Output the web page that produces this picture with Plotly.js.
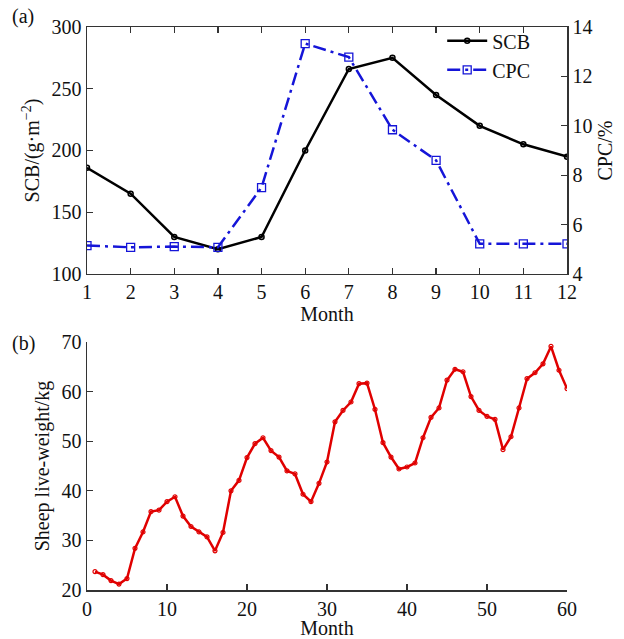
<!DOCTYPE html>
<html>
<head>
<meta charset="utf-8">
<script src="https://cdn.plot.ly/plotly-3.0.1.min.js"></script>
<style>html,body{margin:0;padding:0;background:#fff;}#chart{width:624px;height:639px;}</style>
</head>
<body>
<div id="chart"></div>
<script>
// Panel (a)
const months = [1,2,3,4,5,6,7,8,9,10,11,12];
const scb = [186,165,130,120,130,200,266,275,245,220,205,195];
const cpc = [5.15,5.08,5.11,5.08,7.5,13.33,12.78,9.84,8.6,5.22,5.22,5.22];
// Panel (b)
const monthsB = [1,2,3,4,5,6,7,8,9,10,11,12,13,14,15,16,17,18,19,20,21,22,23,24,25,26,27,28,29,30,31,32,33,34,35,36,37,38,39,40,41,42,43,44,45,46,47,48,49,50,51,52,53,54,55,56,57,58,59,60];
const weight = [23.7,23.1,21.9,21.2,22.3,28.4,31.7,35.8,36.1,37.8,38.8,34.9,32.8,31.7,30.7,27.9,31.6,40.0,42.1,46.7,49.5,50.7,48.1,46.8,44.0,43.4,39.3,37.8,41.5,45.8,53.9,56.2,57.9,61.6,61.7,56.4,49.7,46.8,44.4,44.8,45.6,50.7,54.8,56.7,62.3,64.5,64.0,59.0,56.2,55.0,54.4,48.3,50.9,56.7,62.6,63.8,65.6,69.1,64.3,60.6];

const F = "Liberation Serif, Times New Roman, serif";
const axCol = "#333";
const FS = 20;

const traces = [
  {x: months, y: scb, name: "SCB", type: "scatter", mode: "lines+markers",
   xaxis: "x", yaxis: "y",
   line: {color: "#000", width: 2.5},
   marker: {symbol: "circle-open", size: 5, color: "#000", line: {width: 1.5, color: "#000"}}},
  {x: months, y: cpc, name: "CPC", type: "scatter", mode: "lines+markers",
   xaxis: "x", yaxis: "y2",
   line: {color: "#1515d8", width: 2.5, dash: "13px,5px,3px,5px"},
   marker: {symbol: "square-open", size: 8, color: "#1515d8", line: {width: 1.3, color: "#1515d8"}}},
  {x: monthsB, y: weight, name: "weight", type: "scatter", mode: "lines+markers",
   xaxis: "x2", yaxis: "y3", showlegend: false,
   line: {color: "#e00000", width: 2.5},
   marker: {symbol: "circle-open", size: 4, color: "#e00000", line: {width: 1.2, color: "#e00000"}}}
];

const common = {
  showgrid: false, zeroline: false, showline: true, linecolor: axCol, linewidth: 1.5,
  ticks: "inside", ticklen: 6, tickwidth: 1.2, tickcolor: axCol,
  tickfont: {family: F, size: FS, color: "#111"}
};

const layout = {
  width: 624, height: 639,
  margin: {l: 87, r: 57, t: 27, b: 49},
  paper_bgcolor: "#fff", plot_bgcolor: "#fff",
  font: {family: F, size: FS, color: "#111"},
  showlegend: true,
  legend: {x: 0.74, y: 1.01, xanchor: "left", yanchor: "top", bgcolor: "rgba(0,0,0,0)",
           font: {family: F, size: FS, color: "#111"}, itemwidth: 40, tracegroupgap: 0},
  xaxis: Object.assign({}, common, {domain: [0,1], anchor: "y", range: [1,12], dtick: 1, tick0: 1,
          mirror: "ticks", title: {text: "Month", font: {family: F, size: FS}, standoff: 1}}),
  yaxis: Object.assign({}, common, {domain: [0.5613, 1], anchor: "x", range: [100,300], dtick: 50,
          title: {text: "SCB/(g·m<sup>−2</sup>)", font: {family: F, size: FS}, standoff: 6}}),
  yaxis2: Object.assign({}, common, {overlaying: "y", side: "right", anchor: "x", range: [4,14], dtick: 2,
          title: {text: "CPC/%", font: {family: F, size: FS}, standoff: 6}}),
  xaxis2: Object.assign({}, common, {domain: [0,1], anchor: "y3", range: [0,60], dtick: 10,
          title: {text: "Month", font: {family: F, size: FS}, standoff: 2}}),
  yaxis3: Object.assign({}, common, {domain: [0, 0.4405], anchor: "x2", range: [20,70], dtick: 10,
          title: {text: "Sheep live-weight/kg", font: {family: F, size: FS}, standoff: 6}}),
  annotations: [
    {text: "(a)", xref: "paper", yref: "paper", x: -0.16, y: 1.018, xanchor: "left", yanchor: "middle",
     showarrow: false, font: {family: F, size: FS, color: "#111"}},
    {text: "(b)", xref: "paper", yref: "paper", x: -0.16, y: 0.437, xanchor: "left", yanchor: "middle",
     showarrow: false, font: {family: F, size: FS, color: "#111"}}
  ]
};

Plotly.newPlot("chart", traces, layout, {displayModeBar: false, staticPlot: true});
</script>
</body>
</html>
